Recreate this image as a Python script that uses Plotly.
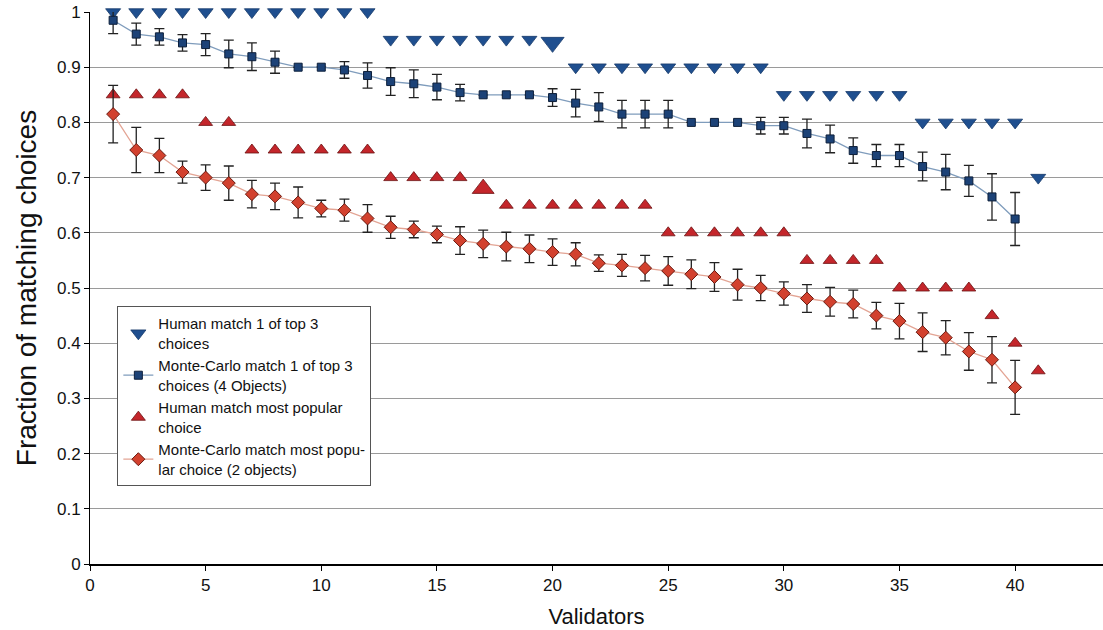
import plotly.graph_objects as go

# Human match 1 of top 3 choices
human_top3_x = list(range(1, 42))
human_top3_y = [1.0]*12 + [0.95]*7 + [0.945] + [0.9]*9 + [0.85]*6 + [0.8]*5 + [0.7]

# Monte-Carlo match 1 of top 3 choices (4 objects)
mc_top3_x = list(range(1, 41))
mc_top3_y = [0.985, 0.96, 0.955, 0.944, 0.941, 0.924, 0.919, 0.909, 0.90, 0.90,
             0.895, 0.885, 0.874, 0.870, 0.864, 0.854, 0.850, 0.850, 0.850, 0.845,
             0.835, 0.828, 0.815, 0.815, 0.815, 0.800, 0.800, 0.800, 0.794, 0.794,
             0.780, 0.770, 0.749, 0.740, 0.740, 0.720, 0.710, 0.694, 0.665, 0.625]
mc_top3_err = [0.024, 0.02, 0.015, 0.015, 0.02, 0.025, 0.025, 0.02, 0.0, 0.0,
               0.015, 0.023, 0.025, 0.025, 0.023, 0.015, 0.0, 0.0, 0.0, 0.016,
               0.025, 0.026, 0.025, 0.025, 0.025, 0.0, 0.0, 0.0, 0.015, 0.015,
               0.026, 0.025, 0.023, 0.02, 0.02, 0.026, 0.032, 0.028, 0.042, 0.048]

# Human match most popular choice
human_pop_x = list(range(1, 42))
human_pop_y = [0.85]*4 + [0.8]*2 + [0.75]*6 + [0.7]*4 + [0.68] + [0.65]*7 + [0.6]*6 + \
              [0.55]*4 + [0.5]*4 + [0.45, 0.4, 0.35]

# Monte-Carlo match most popular choice (2 objects)
mc_pop_x = list(range(1, 41))
mc_pop_y = [0.815, 0.75, 0.74, 0.71, 0.70, 0.69, 0.67, 0.666, 0.655, 0.644,
            0.641, 0.626, 0.610, 0.606, 0.597, 0.586, 0.580, 0.575, 0.571, 0.565,
            0.561, 0.545, 0.541, 0.536, 0.531, 0.525, 0.520, 0.506, 0.500, 0.490,
            0.481, 0.475, 0.471, 0.450, 0.440, 0.420, 0.410, 0.385, 0.370, 0.320]
mc_pop_err = [0.052, 0.041, 0.031, 0.02, 0.023, 0.031, 0.025, 0.024, 0.028, 0.015,
              0.02, 0.025, 0.02, 0.015, 0.015, 0.025, 0.025, 0.026, 0.025, 0.024,
              0.021, 0.015, 0.02, 0.023, 0.026, 0.026, 0.026, 0.028, 0.023, 0.021,
              0.025, 0.026, 0.025, 0.024, 0.032, 0.035, 0.031, 0.034, 0.042, 0.049]

x_ticks = [0, 5, 10, 15, 20, 25, 30, 35, 40]
y_ticks = [0, 0.1, 0.2, 0.3, 0.4, 0.5, 0.6, 0.7, 0.8, 0.9, 1]
y_tick_text = ["0", "0.1", "0.2", "0.3", "0.4", "0.5", "0.6", "0.7", "0.8", "0.9", "1"]

# highlighted (larger) human markers
big_top3 = 19
big_pop = 16
top3_sizes = [13] * len(human_top3_x)
top3_sizes[big_top3] = 20
pop_sizes = [12] * len(human_pop_x)
pop_sizes[big_pop] = 19

err_style = dict(type="data", visible=True, color="#222222", thickness=1.3, width=5)

fig = go.Figure()
fig.add_trace(go.Scatter(
    x=human_top3_x, y=human_top3_y, mode="markers",
    name="Human match 1 of top 3<br>choices",
    marker=dict(symbol="triangle-down", size=top3_sizes, color="#1f4f8f", opacity=1,
                line=dict(color="#173a6a", width=0.8)),
    cliponaxis=False))
fig.add_trace(go.Scatter(
    x=mc_top3_x, y=mc_top3_y, mode="lines+markers",
    name="Monte-Carlo match 1 of top 3<br>choices (4 Objects)",
    line=dict(color="#7f9cbc", width=1.3),
    marker=dict(symbol="square", size=8, color="#1c4277",
                line=dict(color="#0d1f3a", width=1)),
    error_y=dict(array=mc_top3_err, **err_style)))
fig.add_trace(go.Scatter(
    x=human_pop_x, y=human_pop_y, mode="markers",
    name="Human match most popular<br>choice",
    marker=dict(symbol="triangle-up", size=pop_sizes, color="#c4262b", opacity=1,
                line=dict(color="#6a1010", width=0.8)),
    cliponaxis=False))
fig.add_trace(go.Scatter(
    x=mc_pop_x, y=mc_pop_y, mode="lines+markers",
    name="Monte-Carlo match most popu-<br>lar choice (2 objects)",
    line=dict(color="#e3a494", width=1.3),
    marker=dict(symbol="diamond", size=10, color="#d2412e",
                line=dict(color="#6a1a10", width=1)),
    error_y=dict(array=mc_pop_err, **err_style)))

tick_font = dict(family="Liberation Sans, Arial, Helvetica", size=17, color="#111111")

fig.update_layout(
    width=1103, height=630,
    margin=dict(l=90, r=0, t=12, b=66),
    paper_bgcolor="white", plot_bgcolor="white",
    font=dict(family="Liberation Sans, Arial, Helvetica", color="#111111"),
    showlegend=True,
    legend=dict(x=0.027, y=0.467, xanchor="left", yanchor="top",
                bgcolor="white", bordercolor="#555555", borderwidth=1,
                font=dict(family="Liberation Sans, Arial, Helvetica", size=15, color="#111111"),
                tracegroupgap=0, itemwidth=30),
    xaxis=dict(range=[0, 43.8], tickvals=x_ticks, ticks="outside", ticklen=5,
               tickcolor="#000000", showgrid=False, zeroline=False,
               showline=True, linecolor="#000000", linewidth=1.5,
               tickfont=tick_font,
               title=dict(text="Validators", standoff=14,
                          font=dict(family="Liberation Sans, Arial", size=22, color="#111111"))),
    yaxis=dict(range=[0, 1], tickvals=y_ticks, ticktext=y_tick_text, ticks="outside",
               ticklen=5, tickcolor="#000000", showgrid=True, gridcolor="#9a9a9a",
               gridwidth=1, zeroline=False, showline=True, linecolor="#000000",
               linewidth=1, tickfont=tick_font,
               title=dict(text="Fraction of matching choices", standoff=12,
                          font=dict(family="Liberation Sans, Arial", size=28, color="#111111"))),
)

fig.write_html("out.html")
